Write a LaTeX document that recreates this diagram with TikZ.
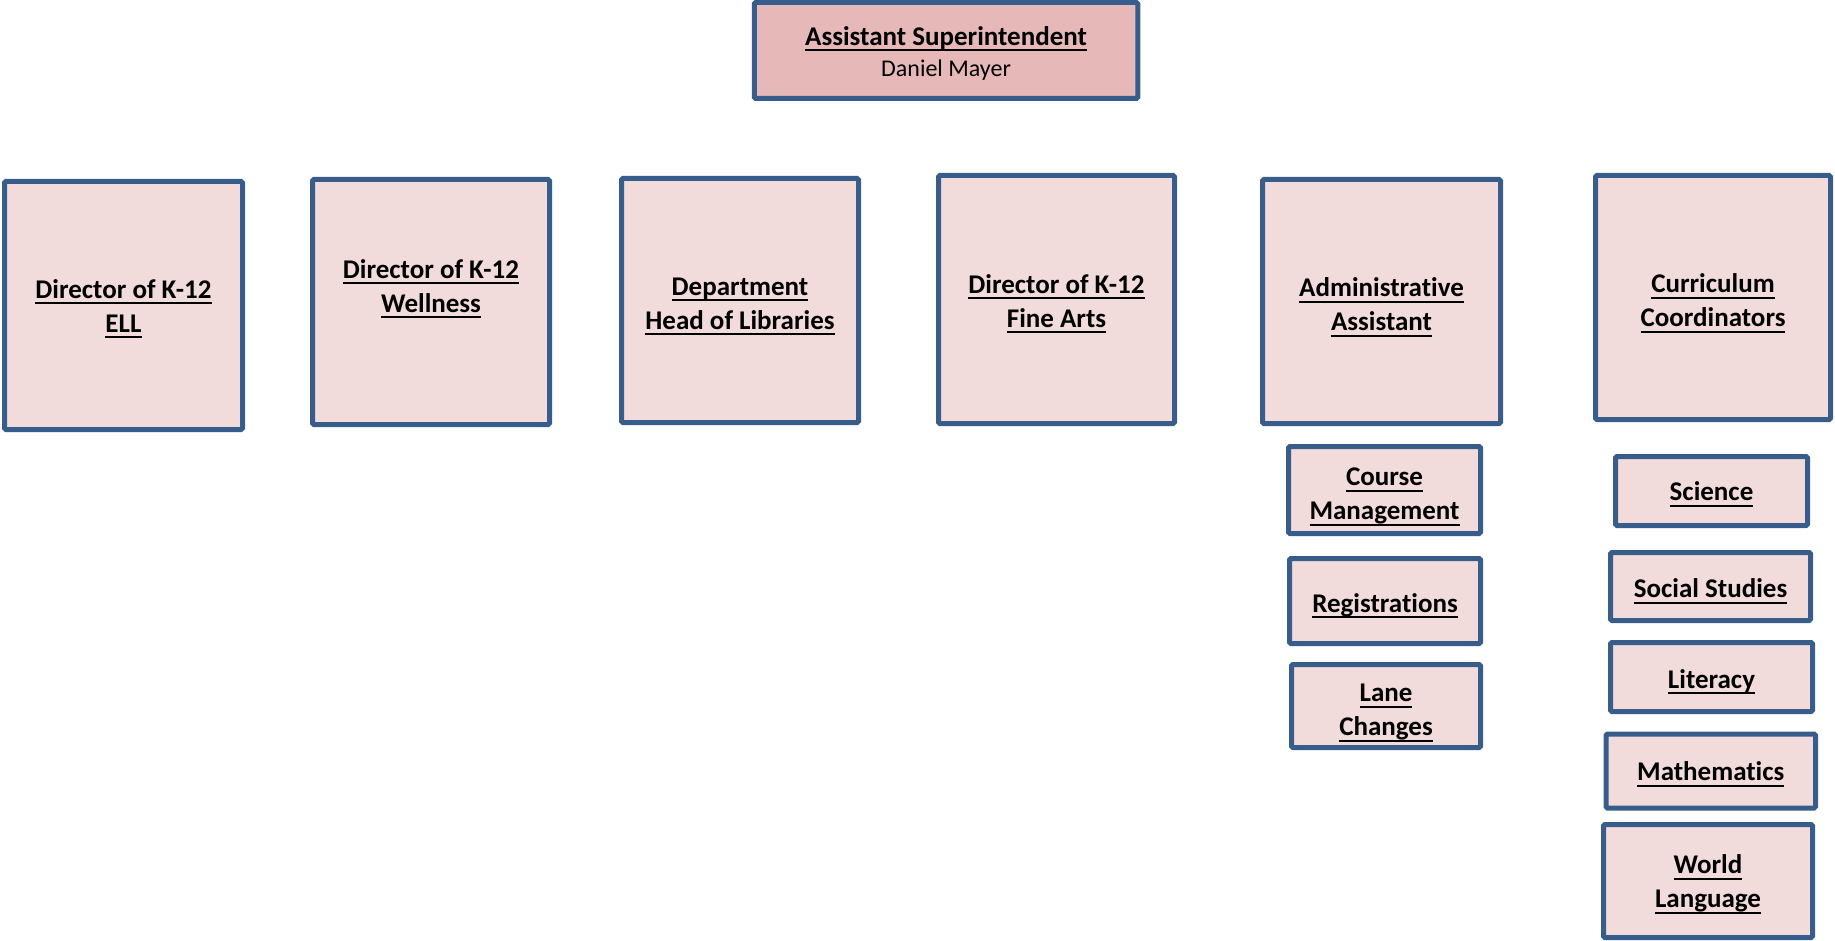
\documentclass[tikz,border=0pt]{standalone}
\usepackage{fontspec}
\setmainfont{Carlito}[Ligatures=NoCommon]
\usetikzlibrary{calc}

\definecolor{boxline}{HTML}{385D8A}
\definecolor{headfill}{HTML}{E6B9B8}
\definecolor{unitfill}{HTML}{F2DCDB}

% underlined label text, rule thickness close to the font's own
\newcommand\undl[1]{\setbox0\hbox{#1}\rlap{\rule[-6pt]{\wd0}{2.2pt}}\box0}

\tikzset{
  unitbox/.style={draw=boxline, line width=5pt, fill=unitfill, rounded corners=1.5pt,
                  inner sep=0pt},
  headbox/.style={unitbox, fill=headfill},
  lbl/.style={inner sep=0pt, align=center, font=\fontsize{27}{34}\selectfont\bfseries}
}

\begin{document}
\begin{tikzpicture}[x=1pt,y=-1pt]
\useasboundingbox (0,0) rectangle (1835,941);

% head of the chart
\node[headbox, minimum width=383.5pt, minimum height=96pt] (head) at (946,50.5) {};
\node[lbl] (headtext) at ($(head.center)+(0,2.5)$)
  {\undl{Assistant Superintendent}\\[-3pt]{\mdseries\fontsize{24}{28}\selectfont Daniel Mayer}};

% directors and departments
\node[unitbox, minimum width=238pt, minimum height=248pt] (ell) at (123.5,305.5) {};
\node[lbl] (elltext) at ($(ell.center)+(0,3.5)$)
  {\undl{Director of K-12}\\\undl{ELL}};
\node[unitbox, minimum width=237pt, minimum height=245pt] (wellness) at (431,302) {};
\node[lbl] (wellnesstext) at ($(wellness.center)+(0,-13)$)
  {\undl{Director of K-12}\\\undl{Wellness}};
\node[unitbox, minimum width=237pt, minimum height=244pt] (libraries) at (740,300.5) {};
\node[lbl] (librariestext) at ($(libraries.center)+(0,6)$)
  {\undl{Department}\\\undl{Head of Libraries}};
\node[unitbox, minimum width=236pt, minimum height=248pt] (finearts) at (1056.5,299.5) {};
\node[lbl] (fineartstext) at ($(finearts.center)+(0,4.5)$)
  {\undl{Director of K-12}\\\undl{Fine Arts}};
\node[unitbox, minimum width=238pt, minimum height=244pt] (admin) at (1381.5,301.5) {};
\node[lbl] (admintext) at ($(admin.center)+(0,6)$)
  {\undl{Administrative}\\\undl{Assistant}};
\node[unitbox, minimum width=235pt, minimum height=244pt] (curriculum) at (1713,297.5) {};
\node[lbl] (curriculumtext) at ($(curriculum.center)+(0,6)$)
  {\undl{Curriculum}\\\undl{Coordinators}};

% administrative assistant duties
\node[unitbox, minimum width=192pt, minimum height=87pt] (course) at (1384.5,490) {};
\node[lbl] (coursetext) at ($(course.center)+(0,7)$)
  {\undl{Course}\\\undl{Management}};
\node[unitbox, minimum width=191pt, minimum height=85pt] (registrations) at (1385,601) {};
\node[lbl] (registrationstext) at ($(registrations.center)+(0,5)$)
  {\undl{Registrations}};
\node[unitbox, minimum width=189pt, minimum height=83pt] (lane) at (1386,706) {};
\node[lbl] (lanetext) at ($(lane.center)+(0,7)$)
  {\undl{Lane}\\\undl{Changes}};

% curriculum areas
\node[unitbox, minimum width=192pt, minimum height=69pt] (science) at (1711.5,491) {};
\node[lbl] (sciencetext) at ($(science.center)+(0,3.5)$)
  {\undl{Science}};
\node[unitbox, minimum width=200pt, minimum height=68pt] (social) at (1710.5,586.5) {};
\node[lbl] (socialtext) at ($(social.center)+(0,5)$)
  {\undl{Social Studies}};
\node[unitbox, minimum width=202pt, minimum height=69pt] (literacy) at (1711.5,677) {};
\node[lbl] (literacytext) at ($(literacy.center)+(0,5)$)
  {\undl{Literacy}};
\node[unitbox, minimum width=209.5pt, minimum height=74pt] (math) at (1710.75,771) {};
\node[lbl] (mathtext) at ($(math.center)+(0,3.5)$)
  {\undl{Mathematics}};
\node[unitbox, minimum width=209pt, minimum height=113pt] (world) at (1708,881) {};
\node[lbl] (worldtext) at ($(world.center)+(0,3.5)$)
  {\undl{World}\\\undl{Language}};
\end{tikzpicture}
\end{document}
